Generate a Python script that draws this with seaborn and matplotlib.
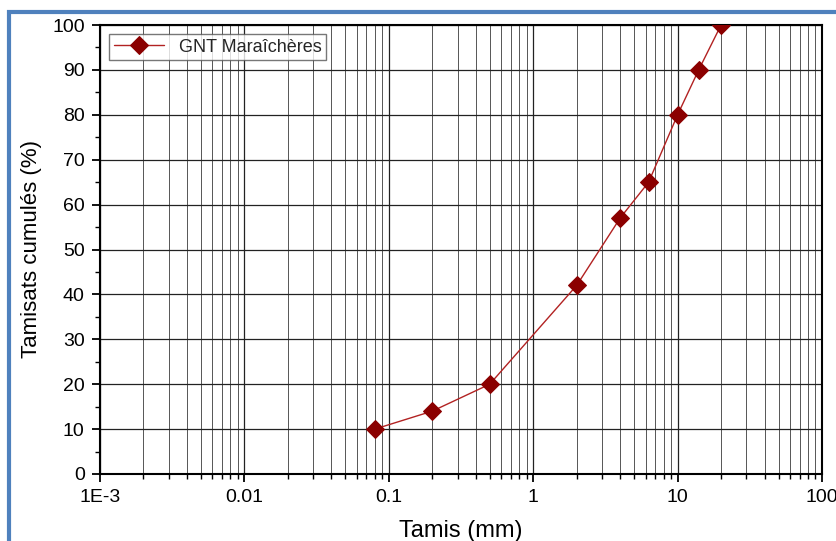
import matplotlib
matplotlib.use("Agg")
import matplotlib.pyplot as plt
from matplotlib.patches import Rectangle
from matplotlib.ticker import LogLocator, FixedLocator, MultipleLocator
import seaborn as sns
import pandas as pd

# Sieve analysis: cumulative passing per sieve opening
tamis_mm = [0.08, 0.2, 0.5, 2, 4, 6.3, 10, 14, 20]
tamisats_pct = [10, 14, 20, 42, 57, 65, 80, 90, 100]
serie = "GNT Maraîchères"
x_ticks = [1e-3, 1e-2, 1e-1, 1, 10, 100]
x_tick_labels = ["1E-3", "0.01", "0.1", "1", "10", "100"]

sns.set_theme(style="white")
plt.rcParams["font.family"] = ["Liberation Sans", "DejaVu Sans"]

df = pd.DataFrame({"Tamis": tamis_mm, "Tamisats": tamisats_pct, "Série": serie})

fig = plt.figure(figsize=(8.36, 5.41), dpi=100)
fig.patch.set_facecolor("white")
ax = fig.add_axes([100 / 836, 1 - 474 / 541, 722 / 836, 449 / 541])

# Blue frame around the figure
fig.patches.append(Rectangle((9 / 836, -0.05), 1.2, 0.978 + 0.05,
                             transform=fig.transFigure, fill=False,
                             edgecolor="#4f81bd", linewidth=3, zorder=0))

sns.lineplot(data=df, x="Tamis", y="Tamisats", hue="Série",
             palette=["#8b0000"], marker="D", markersize=9,
             markeredgecolor="#8b0000", linewidth=1, ax=ax, zorder=5)
for ln in ax.lines:
    ln.set_color("#b22222")
    ln.set_markerfacecolor("#8b0000")
    ln.set_markeredgecolor("#8b0000")

ax.set_xscale("log")
ax.set_xlim(1e-3, 100)
ax.set_ylim(0, 100)
ax.xaxis.set_major_locator(FixedLocator(x_ticks))
ax.set_xticklabels(x_tick_labels)
ax.xaxis.set_minor_locator(LogLocator(base=10, subs=range(2, 10), numticks=50))
ax.yaxis.set_major_locator(MultipleLocator(10))
ax.yaxis.set_minor_locator(MultipleLocator(5))

ax.grid(True, which="major", axis="both", color="#222222", linewidth=0.9)
ax.grid(True, which="minor", axis="x", color="#555555", linewidth=0.7)
ax.set_axisbelow(True)

ax.tick_params(axis="both", which="major", direction="out", length=6, width=1.3,
               color="black", labelsize=14, labelcolor="black", pad=5,
               bottom=True, left=True)
ax.tick_params(axis="both", which="minor", direction="out", length=3.5, width=1,
               color="black", bottom=True, left=True)
for s in ax.spines.values():
    s.set_color("black")
    s.set_linewidth(1.5)

ax.set_xlabel("Tamis (mm)", fontsize=17, color="black", labelpad=10)
ax.set_ylabel("Tamisats cumulés (%)", fontsize=16, color="black")
ax.yaxis.set_label_coords(-0.080, 0.5)

leg = ax.legend(loc="upper left", fontsize=13, frameon=True, fancybox=False,
                edgecolor="#555555", borderpad=0.25, handlelength=2.8,
                bbox_to_anchor=(0.0, 1.0))
leg.get_frame().set_linewidth(1)

fig.savefig("out.png", dpi=100)
